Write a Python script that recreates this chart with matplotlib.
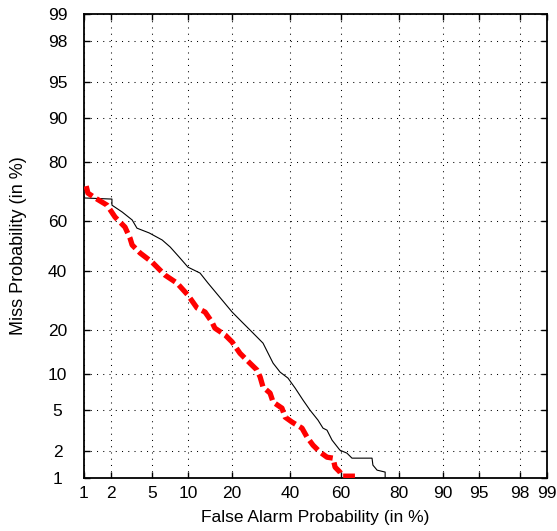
import numpy as np
import matplotlib
matplotlib.use("Agg")
import matplotlib.pyplot as plt
from matplotlib.ticker import FixedLocator, FixedFormatter, NullLocator
from statistics import NormalDist

plt.rcParams['font.family'] = ['Liberation Sans', 'DejaVu Sans']

# DET curves: false alarm vs. miss probability, both in percent
pfa_a = [1.0, 2.04, 2.04, 2.61, 3.27, 3.64, 4.74, 6.17, 7.21, 8.53, 10.0, 12.3,
         14.0, 17.4, 20.1, 23.0, 26.2, 29.9, 31.7, 33.5, 36.1, 39.1, 41.9, 45.0,
         47.8, 51.0, 53.0, 54.6, 56.6, 59.7, 62.4, 64.3, 71.5, 71.8, 73.2, 75.8, 75.8]
pmiss_a = [68.5, 68.1, 65.9, 63.3, 60.3, 57.1, 55.2, 52.4, 49.6, 45.6, 41.6, 39.3,
           35.5, 29.4, 25.4, 22.3, 19.4, 16.5, 14.1, 12.0, 10.3, 9.27, 7.71, 6.12,
           4.99, 4.04, 3.39, 3.24, 2.58, 2.03, 1.89, 1.67, 1.67, 1.40, 1.23, 1.17, 1.0]

pfa_b = [1.06, 1.11, 1.34, 1.81, 2.20, 2.78, 3.12, 3.27, 3.90, 5.02, 6.53, 8.20,
         10.0, 11.7, 13.35, 14.9, 15.6, 18.2, 20.1, 22.4, 25.5, 27.8, 28.9, 29.9,
         32.4, 33.5, 36.8, 38.0, 40.7, 44.6, 46.6, 49.0, 51.8, 54.6, 57.0, 57.8,
         59.7, 60.5, 65.4]
pmiss_b = [72.6, 70.2, 68.5, 65.9, 61.4, 57.5, 53.1, 50.4, 47.2, 43.6, 38.5, 35.5,
           31.1, 26.7, 25.4, 22.3, 20.5, 18.6, 16.8, 14.1, 12.0, 10.7, 9.45, 7.86,
           7.01, 5.88, 5.20, 4.31, 3.87, 3.39, 2.77, 2.29, 1.94, 1.71, 1.67, 1.33,
           1.17, 1.05, 1.05]

tick_vals = [1, 2, 5, 10, 20, 40, 60, 80, 90, 95, 98, 99]
tick_labels = [str(v) for v in tick_vals]

_nd = NormalDist()


def _ppf_one(v):
    if not np.isfinite(v):
        return np.nan
    p = min(max(v / 100.0, 1e-12), 1 - 1e-12)
    return _nd.inv_cdf(p)


def _cdf_one(z):
    if np.isnan(z):
        return np.nan
    return 100.0 * _nd.cdf(z)


_ppf_vec = np.vectorize(_ppf_one, otypes=[float])
_cdf_vec = np.vectorize(_cdf_one, otypes=[float])


def to_deviate(x):
    return _ppf_vec(np.asarray(x, dtype=float))


def from_deviate(z):
    return _cdf_vec(np.asarray(z, dtype=float))


fig = plt.figure(figsize=(5.57, 5.31), dpi=100)
ax = fig.add_axes([84 / 557, 1 - 478 / 531, 463 / 557, 464 / 531])

ax.set_xscale('function', functions=(to_deviate, from_deviate))
ax.set_yscale('function', functions=(to_deviate, from_deviate))
ax.set_xlim(1, 99)
ax.set_ylim(1, 99)

ax.plot(pfa_a, pmiss_a, color='black', lw=0.8, zorder=3)
ax.plot(pfa_b, pmiss_b, color='#ff0000', lw=3.8, dashes=(2.4, 0.9),
        dash_capstyle='butt', zorder=4)

for axis in (ax.xaxis, ax.yaxis):
    axis.set_major_locator(FixedLocator(tick_vals))
    axis.set_major_formatter(FixedFormatter(tick_labels))
    axis.set_minor_locator(NullLocator())

ax.grid(True, color='black', lw=0.75, linestyle=(0, (1, 5)))
ax.tick_params(direction='in', top=True, right=True, length=4, width=1,
               labelsize=12.5, colors='black')
ax.tick_params(axis='x', pad=6)
ax.tick_params(axis='y', pad=19)
for lab in ax.get_yticklabels():
    lab.set_horizontalalignment('center')

for sp in ax.spines.values():
    sp.set_linewidth(1.3)
    sp.set_color('black')

ax.set_xlabel('False Alarm Probability (in %)', fontsize=12.5, labelpad=6)
ax.set_ylabel('Miss Probability (in %)', fontsize=13, labelpad=15)

fig.savefig('out.png', dpi=100)
